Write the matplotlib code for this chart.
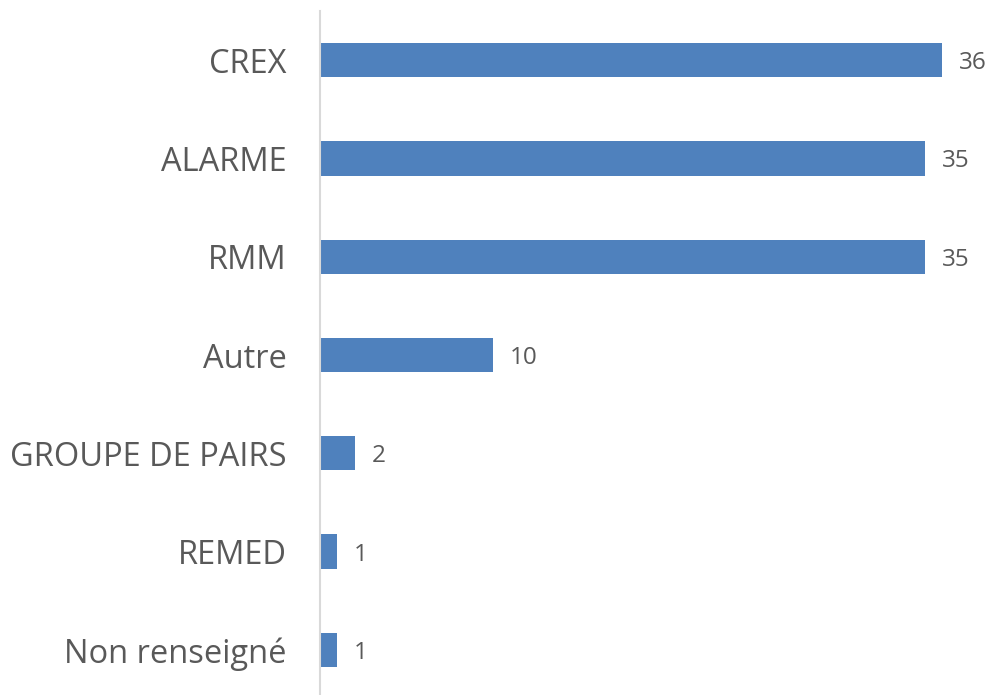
import matplotlib
matplotlib.use("Agg")
import matplotlib.pyplot as plt

categories = ["CREX", "ALARME", "RMM", "Autre", "GROUPE DE PAIRS", "REMED", "Non renseigné"]
values = [36, 35, 35, 10, 2, 1, 1]

bar_color = "#4F81BD"
text_color = "#595959"
font = "Open Sans"

W, H = 992, 695
fig = plt.figure(figsize=(W / 100, H / 100), dpi=100)
top_px, bot_px = 11, 699
ax = fig.add_axes([320 / W, (H - bot_px) / H, 1 - 320 / W, (bot_px - top_px) / H])

n = len(categories)
ypos = list(range(n))
ax.barh(ypos, values, height=0.35, color=bar_color)
ax.set_ylim(n - 0.5, -0.5)
ax.set_xlim(0, 672 / (622 / 36))

ax.set_yticks(ypos)
ax.set_yticklabels(categories, fontsize=23.5, color=text_color, family=font)
ax.tick_params(axis="y", length=0, pad=24)
ax.set_xticks([])

for s in ["top", "right", "bottom"]:
    ax.spines[s].set_visible(False)
ax.spines["left"].set_color("#D9D9D9")
ax.spines["left"].set_linewidth(1.5)

for y, v in zip(ypos, values):
    ax.annotate(str(v), (v, y), xytext=(17, -3), textcoords="offset pixels",
                va="center", ha="left", fontsize=17.5, color=text_color, family=font)

fig.savefig("out.png", dpi=100)
